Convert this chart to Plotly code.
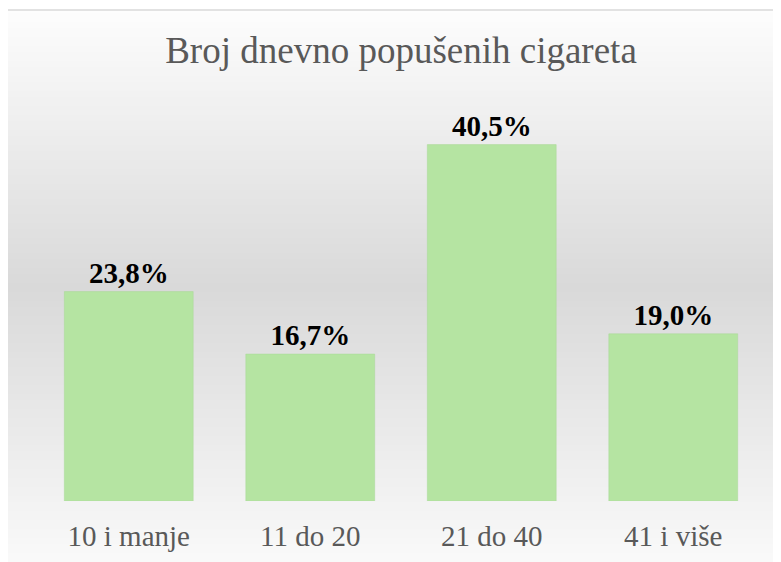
import plotly.graph_objects as go

categories = ["10 i manje", "11 do 20", "21 do 40", "41 i više"]
values = [23.8, 16.7, 40.5, 19.0]
labels = [f"{v:.1f}%".replace(".", ",") for v in values]
title = "Broj dnevno popušenih cigareta"

W, H = 781, 562
OFF = 8  # page body margin
L, R, T, B = 38 - OFF, 764 - OFF, 105 - OFF, 501 - OFF
SERIF = "Times New Roman, Liberation Serif, DejaVu Serif, serif"


def px(x):
    return (x - OFF - L) / (R - L)


def py(y):
    return (B - (y - OFF)) / (B - T)


fig = go.Figure(go.Bar(
    x=categories, y=values, text=labels, textposition="outside",
    marker=dict(color="#b5e4a2", line=dict(color="#a8d896", width=0.5)),
    textfont=dict(family=SERIF, size=29, color="#000000"),
    texttemplate="<b>%{text}</b>", cliponaxis=False, hoverinfo="skip",
))

shapes = []
top, mid, bot = 10, 287, 575
c_top, c_mid, c_bot = 253, 217, 251
step = 3
y = top
while y < bot:
    yc = y + step / 2
    if yc <= mid:
        c = c_top + (c_mid - c_top) * (yc - top) / (mid - top)
    else:
        c = c_mid + (c_bot - c_mid) * (yc - mid) / (bot - mid)
    c = int(round(c))
    shapes.append(dict(type="rect", xref="paper", yref="paper",
                       x0=px(5), x1=px(780), y0=py(y), y1=py(min(y + step + 0.5, bot)),
                       fillcolor=f"rgb({c},{c},{c})", line=dict(width=0), layer="below"))
    y += step
shapes.append(dict(type="rect", xref="paper", yref="paper",
                   x0=px(5), x1=px(780), y0=py(10), y1=py(620),
                   fillcolor="rgba(0,0,0,0)", line=dict(color="#d9d9d9", width=1.5), layer="above"))

fig.update_layout(
    width=W, height=H,
    margin=dict(l=L, r=W - R, t=T, b=H - B, pad=0),
    paper_bgcolor="white", plot_bgcolor="rgba(0,0,0,0)",
    bargap=0.29, showlegend=False,
    shapes=shapes,
    title=dict(text=title, x=0.5, xref="paper", xanchor="center", y=1 - 42 / H, yanchor="middle",
               font=dict(family=SERIF, size=37, color="#595959")),
    xaxis=dict(showgrid=False, showline=False, ticks="", zeroline=False,
               tickfont=dict(family=SERIF, size=29, color="#595959"),
               ticklabelstandoff=15),
    yaxis=dict(range=[0, 45], visible=False, showgrid=False, zeroline=False),
)

fig.write_html("out.html")
